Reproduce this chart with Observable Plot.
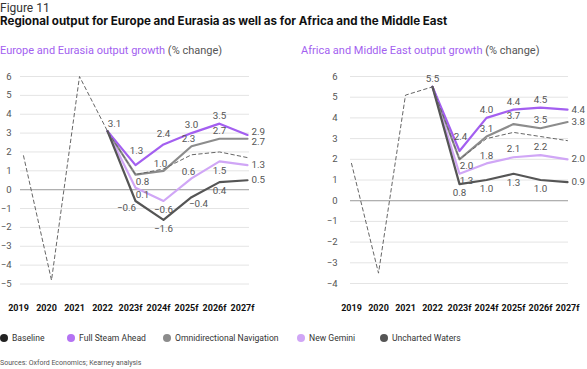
<!DOCTYPE html>
<html><head><meta charset="utf-8">
<script src="https://cdn.jsdelivr.net/npm/d3@7"></script>
<script src="https://cdn.jsdelivr.net/npm/@observablehq/plot@0.6"></script>
<style>
body{margin:0;width:587px;height:369px;position:relative;overflow:hidden;font-family:Roboto,"Open Sans",sans-serif;background:#fff;color:#222}
.abs{position:absolute;white-space:nowrap;line-height:1.2}
#fig{left:0;top:1px;font-size:12px;color:#333}
#title{left:0;top:15px;font-family:Inter,Roboto,sans-serif;font-size:11.6px;font-weight:700;color:#111}
.sub{top:44px;font-size:11px;color:#555}
.sub .p{color:#a35ff0}
#sub1{left:0}#sub2{left:301px}
#c1{left:0;top:60px;line-height:0}#c2{left:290px;top:60px;line-height:0}
.leg{top:333px;font-size:8.6px;color:#333;display:flex;align-items:center}
.leg i{display:inline-block;width:8px;height:8px;border-radius:50%;margin-right:4px}
#src{left:0;top:359px;font-size:7px;color:#555}
</style></head><body>
<div class="abs" id="fig">Figure 11</div>
<div class="abs" id="title">Regional output for Europe and Eurasia as well as for Africa and the Middle East</div>
<div class="abs sub" id="sub1"><span class="p">Europe and Eurasia output growth</span> (% change)</div>
<div class="abs sub" id="sub2"><span class="p">Africa and Middle East output growth</span> (% change)</div>
<div class="abs" id="c1"></div>
<div class="abs" id="c2"></div>
<div id="legend"></div>
<div class="abs" id="src">Sources: Oxford Economics; Kearney analysis</div>
<script>
const years = ["2019","2020","2021","2022","2023f","2024f","2025f","2026f","2027f"];
const scenarios = ["Baseline","Full Steam Ahead","Omnidirectional Navigation","New Gemini","Uncharted Waters"];
const colors = ["#222222","#a35ff0","#8c8c8c","#d0a6f6","#555555"];

// Europe and Eurasia
const euBaseline = [1.8,-4.8,6.0,3.1,0.8,1.1,1.85,2.0,1.7];
const euFull     = [null,null,null,3.1,1.3,2.4,3.0,3.5,2.9];
const euOmni     = [null,null,null,3.1,0.8,1.0,2.3,2.7,2.7];
const euGemini   = [null,null,null,3.1,0.1,-0.6,0.6,1.5,1.3];
const euUnchart  = [null,null,null,3.1,-0.6,-1.6,-0.4,0.4,0.5];
const euPlace = {
  "Baseline":                   [null,null,null,"aboveRight",null,null,null,null,null],
  "Full Steam Ahead":           [null,null,null,null,"aboveHigh","aboveMid","above","above","endUp"],
  "Omnidirectional Navigation": [null,null,null,null,"belowRight","aboveLeft","aboveLeft","above","endDown"],
  "New Gemini":                 [null,null,null,null,"belowRight","below","aboveLeft","below","end"],
  "Uncharted Waters":           [null,null,null,null,"belowLeft","below","belowRight","below","end"]
};

// Africa and Middle East
const afBaseline = [1.8,-3.5,5.1,5.5,2.0,3.0,3.3,3.1,2.9];
const afFull     = [null,null,null,5.5,2.4,4.0,4.4,4.5,4.4];
const afOmni     = [null,null,null,5.5,2.0,3.1,3.7,3.5,3.8];
const afGemini   = [null,null,null,5.5,1.3,1.8,2.1,2.2,2.0];
const afUnchart  = [null,null,null,5.5,0.8,1.0,1.3,1.0,0.9];
const afPlace = {
  "Baseline":                   [null,null,null,"above",null,null,null,null,null],
  "Full Steam Ahead":           [null,null,null,null,"aboveHigh","above","above","above","end"],
  "Omnidirectional Navigation": [null,null,null,null,"belowRight","above","above","above","end"],
  "New Gemini":                 [null,null,null,null,"belowRight","above","above","above","end"],
  "Uncharted Waters":           [null,null,null,null,"below","below","below","below","end"]
};

const placements = {
  above:      {dx:0,  dy:-8, anchor:"middle"},
  aboveMid:   {dx:0,  dy:-11,anchor:"middle"},
  aboveHigh:  {dx:1,  dy:-14,anchor:"middle"},
  aboveLeft:  {dx:-3, dy:-7, anchor:"middle"},
  aboveRight: {dx:7,  dy:-7, anchor:"middle"},
  below:      {dx:0,  dy:9,  anchor:"middle"},
  belowRight: {dx:7,  dy:7,  anchor:"middle"},
  belowLeft:  {dx:-9, dy:7,  anchor:"middle"},
  end:        {dx:4,  dy:0,  anchor:"start"},
  endUp:      {dx:4,  dy:-3, anchor:"start"},
  endDown:    {dx:4,  dy:3,  anchor:"start"}
};

function toLong(seriesArrays, place) {
  const rows = [];
  seriesArrays.forEach((arr, si) => {
    arr.forEach((v, i) => {
      if (v != null) rows.push({series: scenarios[si], year: years[i], value: v, place: place[scenarios[si]][i]});
    });
  });
  return rows;
}

const fmt = d => (d < 0 ? "\u2212" : "") + Math.abs(d).toFixed(1);
const fmtTick = d => (d < 0 ? "\u2212" : "") + Math.abs(d);

function chart(rows, o) {
  const drawOrder = ["New Gemini","Omnidirectional Navigation","Full Steam Ahead","Uncharted Waters"];
  const ticks = d3.range(o.yDomain[0], o.yDomain[1] + 1);
  const marks = [
    Plot.gridY(ticks, {stroke:"#e4e4e4", strokeOpacity:1, strokeWidth:1}),
    Plot.ruleY([0], {stroke:"#b0b0b0", strokeWidth:1.3}),
    Plot.axisY(ticks, {tickSize:0, tickPadding:o.yPad, tickFormat:fmtTick, fill:"#555", fontSize:9.5, label:null}),
    Plot.axisX({tickSize:0, tickPadding:21, dx:o.xdx, fill:"#111", fontWeight:700, fontSize:9, label:null})
  ];
  drawOrder.forEach(s => {
    marks.push(Plot.lineY(rows.filter(r => r.series === s), {x:"year", y:"value", stroke:colors[scenarios.indexOf(s)], strokeWidth:2.2}));
  });
  marks.push(Plot.lineY(rows.filter(r => r.series === "Baseline"), {x:"year", y:"value", stroke:"#666", strokeWidth:1, strokeDasharray:"3.5,3"}));
  Object.entries(placements).forEach(([k, p]) => {
    marks.push(Plot.text(rows.filter(r => r.place === k), {x:"year", y:"value", text:d => fmt(d.value), dx:p.dx, dy:p.dy, textAnchor:p.anchor, fill:"#555", fontSize:9.8}));
  });
  return Plot.plot({
    width:o.width, height:o.height,
    marginTop:16, marginBottom:o.marginBottom, marginLeft:o.marginLeft, marginRight:o.marginRight,
    style:{fontFamily:"Roboto, 'Open Sans', sans-serif", background:"transparent", overflow:"visible"},
    x:{type:"point", domain:years, padding:0, axis:null},
    y:{domain:o.yDomain, axis:null},
    marks
  });
}

const euRows = toLong([euBaseline, euFull, euOmni, euGemini, euUnchart], euPlace);
const afRows = toLong([afBaseline, afFull, afOmni, afGemini, afUnchart], afPlace);

document.getElementById("c1").appendChild(chart(euRows, {yDomain:[-5,6], width:290, height:260, marginBottom:36.5, marginLeft:20, marginRight:41, xdx:-5, yPad:9}));
document.getElementById("c2").appendChild(chart(afRows, {yDomain:[-4,6], width:297, height:260, marginBottom:37, marginLeft:60, marginRight:19, xdx:0, yPad:13}));

// legend
const legX = [0, 67, 163, 297, 380];
const leg = document.getElementById("legend");
scenarios.forEach((s, i) => {
  const d = document.createElement("div");
  d.className = "abs leg";
  d.style.left = legX[i] + "px";
  d.innerHTML = `<i style="background:${i===1?"#b473f3":colors[i]}"></i>${s}`;
  leg.appendChild(d);
});
</script>
</body></html>
